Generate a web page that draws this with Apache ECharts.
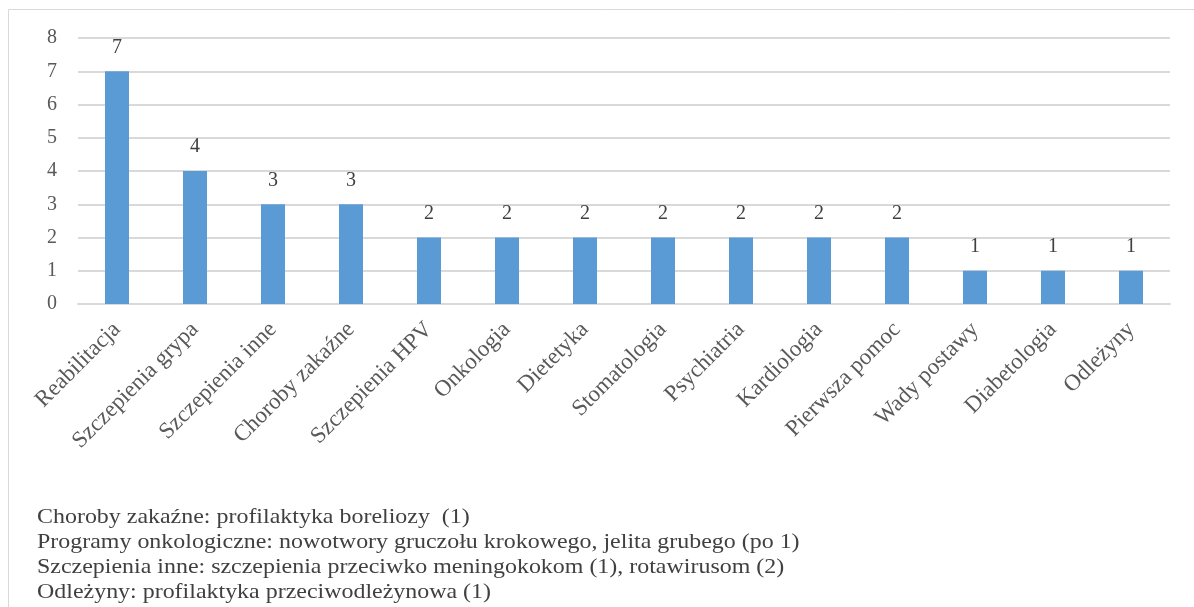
<!DOCTYPE html>
<html><head><meta charset="utf-8">
<script src="https://cdn.jsdelivr.net/npm/echarts@6/dist/echarts.min.js"></script>
<style>html,body{margin:0;padding:0;background:#fff;}#c{width:1194px;height:607px;}</style>
</head><body><div id="c"></div>
<script>
const categories = ["Reabilitacja","Szczepienia grypa","Szczepienia inne","Choroby zakaźne","Szczepienia HPV","Onkologia","Dietetyka","Stomatologia","Psychiatria","Kardiologia","Pierwsza pomoc","Wady postawy","Diabetologia","Odleżyny"];
const values = [7,4,3,3,2,2,2,2,2,2,2,1,1,1];
const yTicks = [0,1,2,3,4,5,6,7,8];
const notes = [
  "Choroby zakaźne: profilaktyka boreliozy  (1)",
  "Programy onkologiczne: nowotwory gruczołu krokowego, jelita grubego (po 1)",
  "Szczepienia inne: szczepienia przeciwko meningokokom (1), rotawirusom (2)",
  "Odleżyny: profilaktyka przeciwodleżynowa (1)"
];
const FONT = "'Liberation Serif','Times New Roman',serif";
const chart = echarts.init(document.getElementById('c'));
const graphics = [{type:'rect', shape:{x:8.5,y:9.5,width:1200,height:620}, style:{fill:'none',stroke:'#d9d9d9',lineWidth:1}, silent:true}];
notes.forEach((t,i)=>graphics.push({type:'text', x:37, y:507+i*25, scaleX:1.14,
  style:{text:t, font:"21px "+FONT, fill:'#404040', textBaseline:'top'}}));
chart.setOption({
  animation:false,
  grid:{left:78, right:24, top:38, bottom:303, containLabel:false},
  xAxis:{type:'category', data:categories,
    axisLine:{lineStyle:{color:'#d9d9d9', width:2}}, axisTick:{show:false},
    axisLabel:{rotate:45, interval:0, margin:22, color:'#595959', fontFamily:FONT, fontSize:23}},
  yAxis:{type:'value', min:yTicks[0], max:yTicks[yTicks.length-1], interval:1,
    axisLine:{show:false}, axisTick:{show:false},
    splitLine:{lineStyle:{color:'#d9d9d9', width:2}},
    axisLabel:{margin:21, color:'#595959', fontFamily:FONT, fontSize:20}},
  series:[{type:'bar', data:values, barWidth:24, itemStyle:{color:'#5b9bd5'},
    label:{show:true, position:'top', distance:14, color:'#404040', fontFamily:FONT, fontSize:20}}],
  graphic:graphics
});
</script></body></html>
